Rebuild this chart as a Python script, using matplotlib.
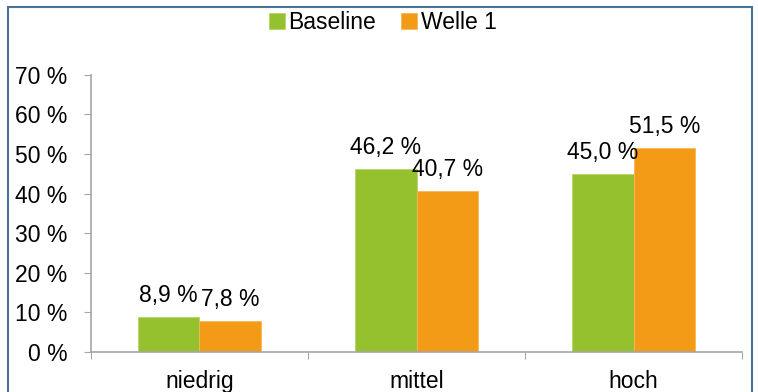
import matplotlib.pyplot as plt
import numpy as np
from matplotlib.patches import Rectangle

plt.rcParams['font.family'] = ['Liberation Sans', 'DejaVu Sans']

categories = ['niedrig', 'mittel', 'hoch']
series_names = ['Baseline', 'Welle 1']
baseline = [8.9, 46.2, 45.0]
welle1 = [7.8, 40.7, 51.5]
yticks = [0, 10, 20, 30, 40, 50, 60, 70]

green = '#96C12F'
orange = '#F39A17'
grey = '#A6A6A6'
fs = 16.5

fig = plt.figure(figsize=(7.58, 3.92), dpi=100)
ax = fig.add_axes([0.120, 0.102, 0.859, 0.707])

x = np.arange(len(categories))
w = 0.285
b1 = ax.bar(x - w/2, baseline, w, color=green, edgecolor='#B5D66A', linewidth=0.6, label=series_names[0])
b2 = ax.bar(x + w/2, welle1, w, color=orange, edgecolor='#F7B75A', linewidth=0.6, label=series_names[1])

def fmt(v):
    return ('%.1f %%' % v).replace('.', ',')

for bars, vals in ((b1, baseline), (b2, welle1)):
    for rect, v in zip(bars, vals):
        ax.annotate(fmt(v), (rect.get_x() + rect.get_width()/2, v),
                    xytext=(0, 11), textcoords='offset points',
                    ha='center', va='baseline', fontsize=fs)

ax.set_xlim(-0.5, 2.5)
ax.set_ylim(0, 70)
ax.set_yticks(yticks)
ax.set_yticklabels(['%d %%' % t for t in yticks], fontsize=fs)

# category labels centred, ticks on the boundaries
ax.set_xticks([-0.5, 0.5, 1.5, 2.5])
ax.set_xticklabels([])
ax.set_xticks(x, minor=True)
ax.set_xticklabels(categories, minor=True, fontsize=fs)
ax.tick_params(axis='x', which='minor', length=0, pad=13)
ax.tick_params(axis='x', which='major', length=5, color=grey)
ax.tick_params(axis='y', length=5, color=grey, pad=12)

for s in ('top', 'right'):
    ax.spines[s].set_visible(False)
for s in ('left', 'bottom'):
    ax.spines[s].set_color(grey)
    ax.spines[s].set_linewidth(1.2)

fig.legend(loc='upper center', bbox_to_anchor=(0.505, 1.025), ncol=2, frameon=False,
           fontsize=fs, handlelength=0.7, handleheight=0.7, handletextpad=0.15,
           columnspacing=1.1)

# outer frame
fig.patches.append(Rectangle((8/758, -0.05), 744/758, 1.05 - 7/392, transform=fig.transFigure,
                             fill=False, edgecolor='#4A7196', linewidth=1.5, clip_on=False))

fig.savefig('out.png', dpi=100)
